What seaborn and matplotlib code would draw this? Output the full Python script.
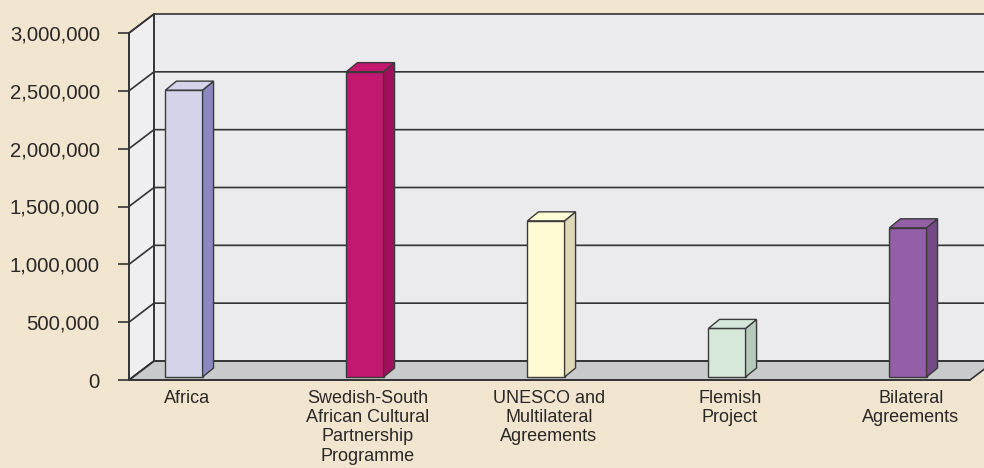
import numpy as np
import pandas as pd
import matplotlib
matplotlib.use("Agg")
import matplotlib.pyplot as plt
import seaborn as sns
from matplotlib.patches import Polygon
from matplotlib.lines import Line2D
from matplotlib.ticker import FuncFormatter

# ---- data ----
categories = [
    "Africa",
    "Swedish-South\nAfrican Cultural\nPartnership\nProgramme",
    "UNESCO and\nMultilateral\nAgreements",
    "Flemish\nProject",
    "Bilateral\nAgreements",
]
values = [2480000, 2640000, 1350000, 420000, 1290000]
front_colors = ["#D4D3EA", "#C4176F", "#FFFBD5", "#D5E8DA", "#935FA7"]
side_colors = ["#8B87C0", "#A20F5C", "#DDD9B8", "#B3CABD", "#744A86"]
yticks = [0, 500000, 1000000, 1500000, 2000000, 2500000, 3000000]

sns.set_theme(style="white")
plt.rcParams["font.family"] = ["Liberation Sans", "DejaVu Sans"]

W, H = 984, 468
BG = "#F1E5D0"
LINE = "#333333"
TXT = "#2A2727"
fig = plt.figure(figsize=(W / 100, H / 100), dpi=100)
fig.patch.set_facecolor(BG)

# axes: front y-axis at x=129px, floor front line at y=380px, 3M at y=33px
ax = fig.add_axes([129 / W, (H - 380) / H, (970 - 129) / W, (380 - 33) / H])
ax.patch.set_visible(False)

df = pd.DataFrame({"Category": categories, "Value": values})
sns.barplot(data=df, x="Category", y="Value", hue="Category",
            palette=front_colors, legend=False, width=0.205,
            edgecolor="#3a3a3a", linewidth=1.0, saturation=1, ax=ax, zorder=5)

ymax = yticks[-1]
unit_px = 181.0
x0 = -(181 - 129) / unit_px
x1 = (970 - 181) / unit_px
ax.set_xlim(x0, x1)
ax.set_ylim(0, ymax)
uy = (380 - 33) / ymax  # px per value

def dxd(px):
    return px / unit_px

def dyd(px):
    return px / uy

WDX, WDY = dxd(25), dyd(19)
BDX, BDY = dxd(11), dyd(9)
OX, OY = dxd(3), dyd(3)
xR = x1 + dxd(60)

# walls and floor
back = Polygon([(x0 + WDX, WDY), (xR, WDY), (xR, ymax + WDY), (x0 + WDX, ymax + WDY)],
               closed=True, facecolor="#EBEBEE", edgecolor="none", zorder=0, clip_on=False)
side = Polygon([(x0, 0), (x0 + WDX, WDY), (x0 + WDX, ymax + WDY), (x0, ymax)],
               closed=True, facecolor="#EFEFF2", edgecolor=LINE, linewidth=1.2, zorder=1, clip_on=False)
floor = Polygon([(x0, 0), (x0 + WDX, WDY), (x1 + WDX, WDY), (x1, 0)],
                closed=True, facecolor="#C9CACC", edgecolor=LINE, linewidth=1.2, zorder=1, clip_on=False)
for p in (back, side, floor):
    ax.add_patch(p)

# back wall border and gridlines
ax.add_line(Line2D([x0 + WDX, x0 + WDX], [WDY, ymax + WDY], color=LINE, lw=1.2, zorder=2, clip_on=False))
for v in yticks:
    ax.add_line(Line2D([x0, x0 + WDX, xR], [v, v + WDY, v + WDY], color=LINE, lw=1.2,
                       zorder=2, clip_on=False))

# 3D bars
bars = list(ax.patches)[:len(values)]
for i, p in enumerate(bars):
    p.set_x(p.get_x() + OX)
    p.set_y(OY)
    xl = p.get_x()
    xr = xl + p.get_width()
    yb = p.get_y()
    yt = yb + p.get_height()
    sp = Polygon([(xr, yb), (xr + BDX, yb + BDY), (xr + BDX, yt + BDY), (xr, yt)], closed=True,
                 facecolor=side_colors[i], edgecolor="#3a3a3a", linewidth=1.0, zorder=5, clip_on=False)
    tp = Polygon([(xl, yt), (xr, yt), (xr + BDX, yt + BDY), (xl + BDX, yt + BDY)], closed=True,
                 facecolor=front_colors[i], edgecolor="#3a3a3a", linewidth=1.0, zorder=5, clip_on=False)
    ax.add_patch(sp)
    ax.add_patch(tp)

# axes styling
for s in ("top", "right"):
    ax.spines[s].set_visible(False)
for s in ("left", "bottom"):
    ax.spines[s].set_color(LINE)
    ax.spines[s].set_linewidth(1.2)
    ax.spines[s].set_zorder(6)

ax.set_yticks(yticks)
ax.yaxis.set_major_formatter(FuncFormatter(lambda v, _: f"{int(v):,}"))
ax.tick_params(axis="y", direction="out", length=8, width=1.2, color=LINE, pad=13,
               labelsize=14.6, labelcolor=TXT, left=True)
ax.set_xticks(np.arange(len(categories)) + dxd(6))
ax.set_xticklabels(categories, fontsize=13, color=TXT, linespacing=1.18)
ax.tick_params(axis="x", length=0, pad=7)
ax.set_xlabel("")
ax.set_ylabel("")
ax.grid(False)

fig.savefig("out.png", dpi=100, facecolor=BG)
